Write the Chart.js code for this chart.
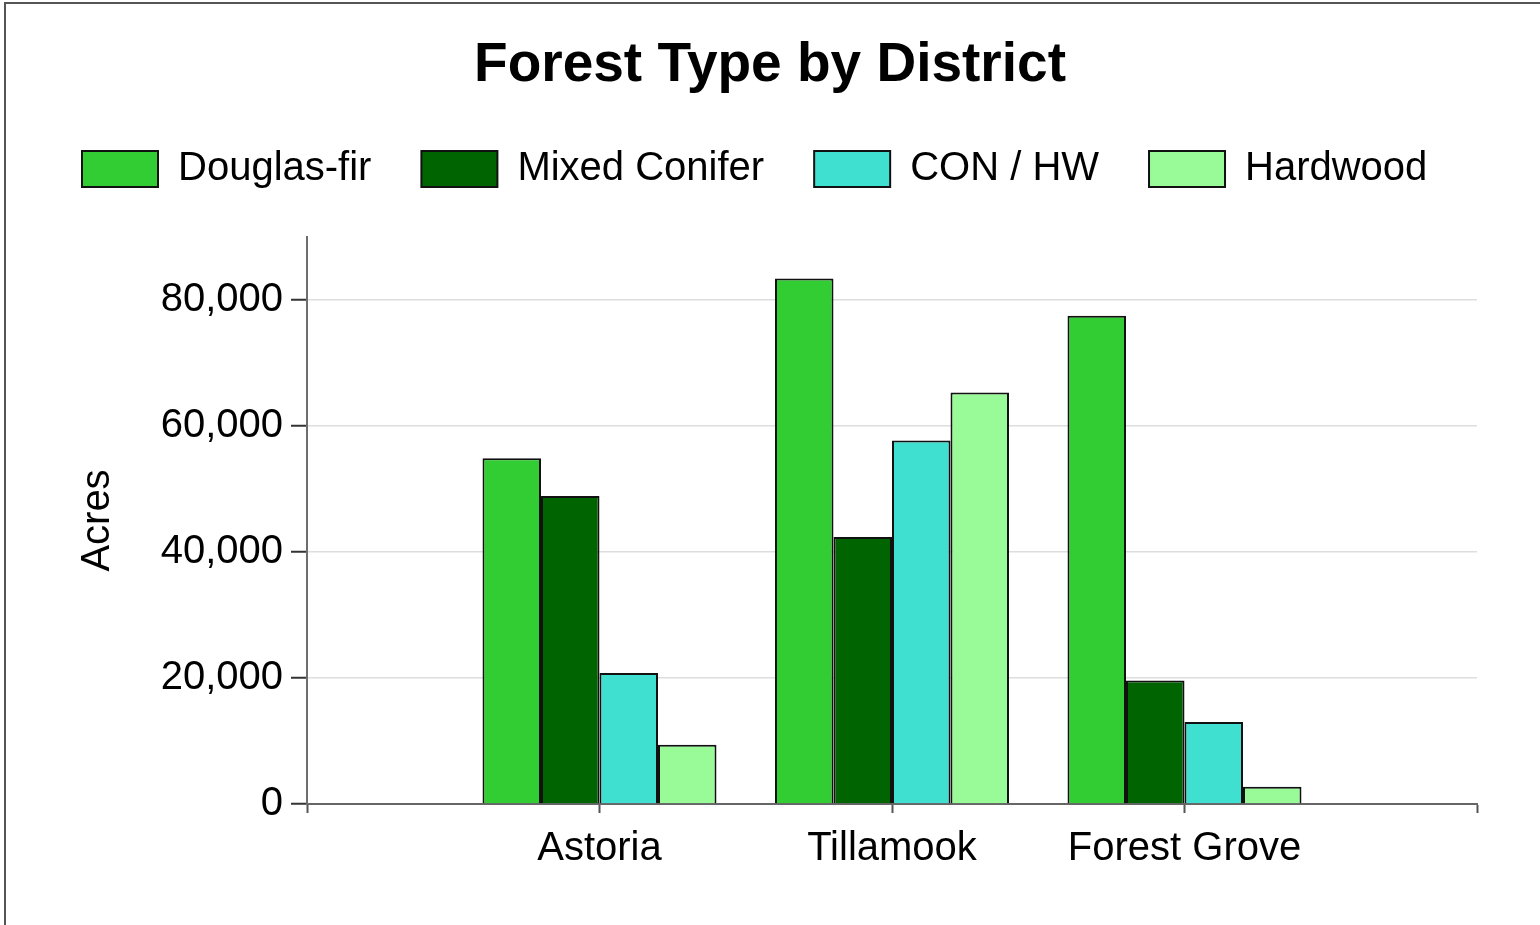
<!DOCTYPE html>
<html>
<head>
<meta charset="utf-8">
<script src="https://cdn.jsdelivr.net/npm/chart.js@4.4.1/dist/chart.umd.min.js"></script>
<style>
  html, body { margin: 0; padding: 0; background: #ffffff; overflow: hidden; }
  #frame { position: absolute; left: 4px; top: 2px; width: 1600px; height: 1000px; border: 2px solid #555; box-sizing: border-box; }
  #wrap { position: absolute; left: 0; top: 0; width: 1540px; height: 925px; }
</style>
</head>
<body>
<div id="frame"></div>
<div id="wrap"><canvas id="c" width="1540" height="925"></canvas></div>
<script>
// ---- data ----
const chartTitle = 'Forest Type by District';
const categories = ['Astoria', 'Tillamook', 'Forest Grove'];
const seriesNames = ['Douglas-fir', 'Mixed Conifer', 'CON / HW', 'Hardwood'];
const douglasFir   = [54900, 83400, 77500];
const mixedConifer = [48900, 42400, 19600];
const conHw        = [20800, 57700, 13000];
const hardwood     = [9400, 65300, 2750];
const seriesColors = ['#32CD32', '#006400', '#40E0D0', '#98FB98'];
const yTicks = [0, 20000, 40000, 60000, 80000];
const yMax = 90000;
const yTitle = 'Acres';

// empty slots at both ends of the category axis
const labels = ['', ...categories, ''];
const pad = arr => [null, ...arr, null];
const seriesValues = [douglasFir, mixedConifer, conHw, hardwood];

const FONT = "'Liberation Sans', Arial, Helvetica, sans-serif";
Chart.defaults.font.family = FONT;
Chart.defaults.color = '#000000';

// spacer boxes so the plot area sits where the reference has it
const spacerPlugin = {
  id: 'spacers',
  beforeInit(chart) {
    const mk = (position, size) => ({
      position, weight: -10, fullSize: false, options: { stackWeight: 1 },
      top: 0, left: 0, right: 0, bottom: 0, width: 0, height: 0,
      isHorizontal() { return position === 'top' || position === 'bottom'; },
      update(maxW, maxH) {
        if (this.isHorizontal()) { this.width = maxW; this.height = size; }
        else { this.width = size; this.height = maxH; }
      },
      getPadding() { return {left: 0, right: 0, top: 0, bottom: 0}; },
      draw() {}
    });
    Chart.layouts.addBox(chart, mk('top', 38));
    Chart.layouts.addBox(chart, mk('right', 31));
  }
};

new Chart(document.getElementById('c'), {
  type: 'bar',
  data: {
    labels: labels,
    datasets: seriesNames.map((name, i) => ({
      label: name,
      data: pad(seriesValues[i]),
      backgroundColor: seriesColors[i],
      borderColor: '#111111',
      borderWidth: 2,
      categoryPercentage: 0.8,
      barPercentage: 1.0
    }))
  },
  options: {
    responsive: false,
    animation: false,
    layout: { padding: { left: 32, right: 32, top: 0, bottom: 0 } },
    plugins: {
      tooltip: { enabled: false },
      title: {
        display: true,
        text: chartTitle,
        font: { size: 55, weight: 'bold', lineHeight: 1 },
        color: '#000',
        padding: { top: 38, bottom: 6 }
      },
      legend: {
        display: true,
        align: 'start',
        labels: {
          boxWidth: 76,
          boxHeight: 36,
          padding: 50,
          color: '#000',
          font: { size: 40 }
        }
      }
    },
    scales: {
      x: {
        type: 'category',
        offset: false,
        grid: {
          offset: false,
          drawOnChartArea: false,
          drawTicks: true,
          tickLength: 9,
          tickColor: '#555',
          tickWidth: 2
        },
        border: { display: true, color: '#666', width: 2 },
        ticks: { font: { size: 40 }, color: '#000', padding: 12, autoSkip: false, maxRotation: 0 },
        afterFit(scale) { scale.height = 121; }
      },
      y: {
        min: 0,
        max: yMax,
        afterBuildTicks(scale) { scale.ticks = yTicks.map(v => ({ value: v })); },
        grid: {
          color: '#dddddd',
          lineWidth: 1.5,
          drawTicks: true,
          tickLength: 16,
          tickColor: '#333',
          tickWidth: 2
        },
        border: { display: true, color: '#6e6e6e', width: 2 },
        ticks: {
          font: { size: 40 },
          color: '#000',
          padding: 8,
          callback: v => v.toLocaleString('en-US')
        },
        title: {
          display: true,
          text: yTitle,
          font: { size: 40 },
          color: '#000',
          padding: { top: 42, bottom: 0 }
        },
        afterFit(scale) { scale.width = 275; }
      }
    }
  },
  plugins: [spacerPlugin]
});
</script>
</body>
</html>
